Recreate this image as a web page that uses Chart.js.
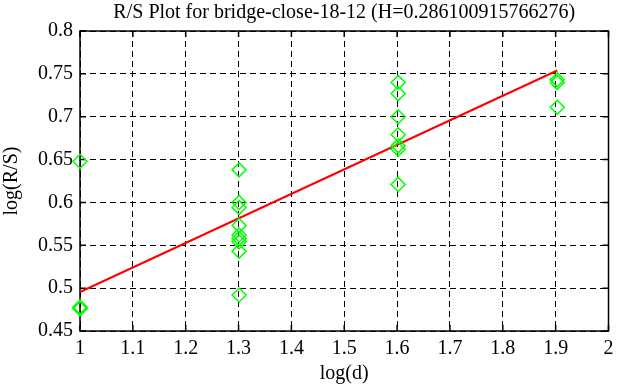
<!DOCTYPE html>
<html>
<head>
<meta charset="utf-8">
<script src="https://cdn.jsdelivr.net/npm/chart.js@4/dist/chart.umd.min.js"></script>
<style>
    html, body { margin: 0; padding: 0; background: #fff; }
    #wrap { width: 617px; height: 387px; }
</style>
</head>
<body>
<div id="wrap"><canvas id="rsChart"></canvas></div>
<script>
// log10 of the block sizes d = 10, 20, 40, 80
const logD = [1, 1.301, 1.602, 1.903];

// log(R/S) values read for each block size
const rsAt10 = [0.648, 0.478, 0.477, 0.476];
const rsAt20 = [0.638, 0.600, 0.594, 0.573, 0.562, 0.558, 0.554, 0.543, 0.492];
const rsAt40 = [0.740, 0.727, 0.700, 0.679, 0.666, 0.662, 0.621];
const rsAt80 = [0.743, 0.740, 0.711];

// fitted line end points (slope = H)
const fitX = [1, 1.903];
const fitY = [0.4955, 0.7539];

const xTicks = [1, 1.1, 1.2, 1.3, 1.4, 1.5, 1.6, 1.7, 1.8, 1.9, 2];
const yTicks = [0.45, 0.5, 0.55, 0.6, 0.65, 0.7, 0.75, 0.8];

const serif = '"Liberation Serif", "Times New Roman", serif';

const points = [];
[rsAt10, rsAt20, rsAt40, rsAt80].forEach((list, i) => {
    list.forEach(v => points.push({x: logD[i], y: v}));
});

/*== frame and inward ticks on all four sides ==*/
const framePlugin = {
    id: 'frame',
    beforeDatasetsDraw(chart) {
        const {ctx, chartArea: a, scales} = chart;
        ctx.save();
        ctx.strokeStyle = '#000';
        ctx.lineWidth = 1.5;
        ctx.setLineDash([]);
        ctx.strokeRect(a.left, a.top, a.right - a.left, a.bottom - a.top);
        ctx.beginPath();
        xTicks.forEach(t => {
            const px = scales.x.getPixelForValue(t);
            ctx.moveTo(px, a.bottom); ctx.lineTo(px, a.bottom - 6);
            ctx.moveTo(px, a.top); ctx.lineTo(px, a.top + 6);
        });
        yTicks.forEach(t => {
            const py = scales.y.getPixelForValue(t);
            ctx.moveTo(a.left, py); ctx.lineTo(a.left + 6, py);
            ctx.moveTo(a.right, py); ctx.lineTo(a.right - 6, py);
        });
        ctx.stroke();
        ctx.restore();
    }
};

const ctx = document.getElementById('rsChart').getContext('2d');

new Chart(ctx, {
    data: {
        datasets: [{
            type: 'scatter',
            data: points,
            pointStyle: 'rectRot',
            pointRadius: 7,
            pointHoverRadius: 7,
            borderColor: '#00ff00',
            backgroundColor: 'rgba(0,0,0,0)',
            borderWidth: 1.5,
            clip: false
        }, {
            type: 'line',
            data: fitX.map((x, i) => ({x: x, y: fitY[i]})),
            borderColor: '#ff0000',
            borderWidth: 2,
            pointRadius: 0,
            fill: false,
            clip: false
        }]
    },
    options: {
        responsive: true,
        maintainAspectRatio: false,
        animation: false,
        layout: {
            padding: {top: 0, right: 7, left: 0, bottom: 0}
        },
        scales: {
            x: {
                type: 'linear',
                min: 1,
                max: 2,
                afterBuildTicks: scale => {
                    scale.ticks = xTicks.map(v => ({value: v}));
                },
                afterFit: scale => {
                    scale.height = 56;
                    scale.paddingLeft = 0;
                    scale.paddingRight = 0;
                },
                ticks: {
                    color: '#000',
                    padding: 6,
                    maxRotation: 0,
                    font: {family: serif, size: 20},
                    callback: v => String(+v.toFixed(2))
                },
                grid: {
                    color: '#000',
                    lineWidth: 1,
                    drawTicks: false
                },
                border: {display: false, dash: [6, 4]},
                title: {
                    display: true,
                    text: 'log(d)',
                    color: '#000',
                    font: {family: serif, size: 20},
                    padding: {top: 0, bottom: 1}
                }
            },
            y: {
                type: 'linear',
                min: 0.45,
                max: 0.8,
                afterBuildTicks: scale => {
                    scale.ticks = yTicks.map(v => ({value: v}));
                },
                afterFit: scale => {
                    scale.width = 80;
                },
                ticks: {
                    color: '#000',
                    padding: 7,
                    font: {family: serif, size: 20},
                    callback: v => String(+v.toFixed(2))
                },
                grid: {
                    color: '#000',
                    lineWidth: 1,
                    drawTicks: false
                },
                border: {display: false, dash: [6, 4]},
                title: {
                    display: true,
                    text: 'log(R/S)',
                    color: '#000',
                    font: {family: serif, size: 20},
                    padding: {top: 0, bottom: 0}
                }
            }
        },
        plugins: {
            legend: {display: false},
            tooltip: {enabled: false},
            title: {
                display: true,
                fullSize: false,
                text: 'R/S Plot for bridge-close-18-12 (H=0.286100915766276)',
                color: '#000',
                font: {family: serif, size: 20, weight: 'normal', lineHeight: 1},
                padding: {top: 3, bottom: 8}
            }
        }
    },
    plugins: [framePlugin]
});
</script>
</body>
</html>
